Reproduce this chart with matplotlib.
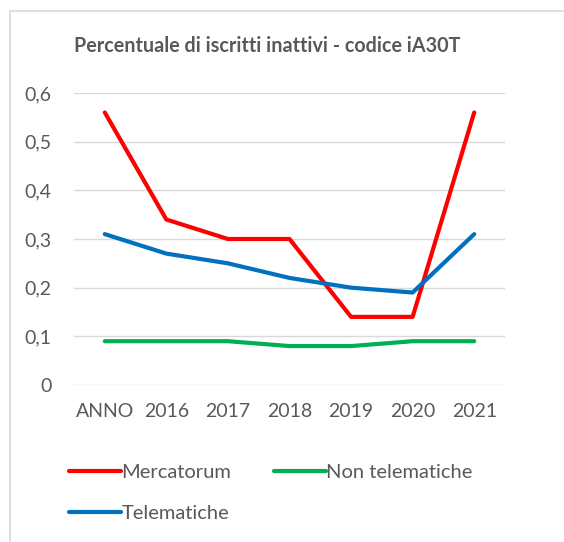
import matplotlib.pyplot as plt
from matplotlib.patches import Rectangle

categories = ["ANNO", "2016", "2017", "2018", "2019", "2020", "2021"]
mercatorum = [0.56, 0.34, 0.30, 0.30, 0.14, 0.14, 0.56]
non_telematiche = [0.09, 0.09, 0.09, 0.08, 0.08, 0.09, 0.09]
telematiche = [0.31, 0.27, 0.25, 0.22, 0.20, 0.19, 0.31]
yticks = [0, 0.1, 0.2, 0.3, 0.4, 0.5, 0.6]
ylabels = ["0", "0,1", "0,2", "0,3", "0,4", "0,5", "0,6"]

plt.rcParams['font.family'] = ['Lato', 'DejaVu Sans']
txt = '#595959'

W, H = 564, 542
fig = plt.figure(figsize=(W / 100, H / 100), dpi=100)
ax = fig.add_axes([74 / W, 1 - 385 / H, (505 - 74) / W, (385 - 93) / H])

x = range(len(categories))
l1, = ax.plot(x, mercatorum, color='#FF0000', lw=3, solid_capstyle='round', label='Mercatorum')
l2, = ax.plot(x, non_telematiche, color='#00B050', lw=3, solid_capstyle='round', label='Non telematiche')
l3, = ax.plot(x, telematiche, color='#0070C0', lw=3, solid_capstyle='round', label='Telematiche')

ax.set_xlim(-0.5, len(categories) - 0.5)
ax.set_ylim(0, 0.6)
ax.set_yticks(yticks)
ax.set_yticklabels(ylabels)
ax.set_xticks(list(x))
ax.set_xticklabels(categories)
ax.grid(axis='y', color='#D9D9D9', lw=1)
ax.set_axisbelow(True)
for s in ax.spines.values():
    s.set_visible(False)
ax.tick_params(length=0, labelsize=14, colors=txt)
ax.tick_params(axis='y', pad=16)
ax.tick_params(axis='x', pad=13)

fig.text(267 / W, 1 - 46 / H, "Percentuale di iscritti inattivi - codice iA30T",
         ha='center', va='center', fontsize=14.2, fontweight='bold', color=txt)

leg = fig.legend([l1, l3, l2], ['Mercatorum', 'Telematiche', 'Non telematiche'],
                 ncol=2, loc='upper left', bbox_to_anchor=(51 / W, 1 - 446 / H),
                 frameon=False, fontsize=14.5, handlelength=2.6, handletextpad=0.0,
                 columnspacing=2.1, labelspacing=1.2, labelcolor=txt)

fig.patches.append(Rectangle((10 / W, -0.05), 1.1, 1 - 11 / H + 0.05, transform=fig.transFigure,
                             fill=False, edgecolor='#D9D9D9', lw=1.2))

fig.savefig('out.png', dpi=100)
